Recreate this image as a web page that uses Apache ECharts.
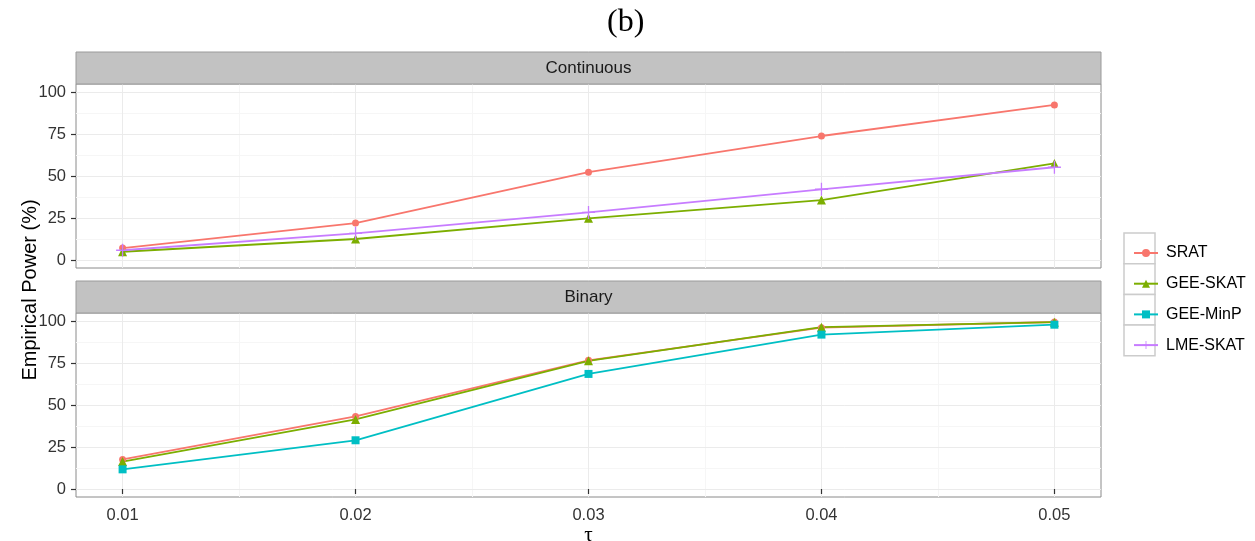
<!DOCTYPE html>
<html>
<head>
<meta charset="utf-8">
<script src="https://cdn.jsdelivr.net/npm/echarts@6/dist/echarts.min.js"></script>
<style>
  html, body { margin: 0; padding: 0; background: #fff; }
  #main { width: 1255px; height: 541px; }
</style>
</head>
<body>
<div id="main"></div>
<script>
// tau values on the x axis
const taus = [0.01, 0.02, 0.03, 0.04, 0.05];
const tauTicks = [0.01, 0.02, 0.03, 0.04, 0.05];
const tauMinor = [0.015, 0.025, 0.035, 0.045];
const powerTicks = [0, 25, 50, 75, 100];
const powerMinor = [12.5, 37.5, 62.5, 87.5];
const methods = ['SRAT', 'GEE-SKAT', 'GEE-MinP', 'LME-SKAT'];
const panels = ['Continuous', 'Binary'];

// Continuous panel
const contSRAT = [7.1, 22.0, 52.3, 73.8, 92.3];
const contGEESKAT = [4.9, 12.5, 24.8, 35.7, 57.5];
const contLMESKAT = [5.8, 15.9, 28.3, 42.1, 55.2];
// Binary panel
const binSRAT = [17.6, 43.2, 76.6, 96.0, 99.4];
const binGEESKAT = [16.3, 41.4, 76.3, 96.3, 99.3];
const binGEEMinP = [11.7, 29.0, 68.5, 91.9, 97.8];

const colors = { 'SRAT': '#F8766D', 'GEE-SKAT': '#7CAE00', 'GEE-MinP': '#00BFC4', 'LME-SKAT': '#C77CFF' };
const plusPath = 'path://M-0.1,-1H0.1V-0.1H1V0.1H0.1V1H-0.1V0.1H-1V-0.1H-0.1Z';
const symbols = { 'SRAT': ['circle', 7], 'GEE-SKAT': ['triangle', 9], 'GEE-MinP': ['rect', 8], 'LME-SKAT': [plusPath, 13] };

const X_MIN = 0.008, X_MAX = 0.052;
const Y_MIN = -4.76, Y_MAX = 104.76;
const PL = 76, PW = 1025, PH = 184;
const panelTops = [84, 313];
const stripH = 32;

let chart = echarts.init(document.getElementById('main'), null, { renderer: 'canvas' });

function xAxes(gi, bottom) {
  return [{
    type: 'value', gridIndex: gi, min: X_MIN, max: X_MAX,
    axisLine: { show: false },
    axisTick: { show: bottom, inside: false, customValues: tauTicks, length: 5, lineStyle: { color: '#333', width: 1.2 } },
    axisLabel: { show: bottom, customValues: tauTicks, margin: 10, fontSize: 16.5, color: '#333',
      fontFamily: 'Liberation Sans', formatter: v => v.toFixed(2) },
    splitLine: { show: true, lineStyle: { color: '#EBEBEB', width: 1 } },
    name: bottom ? 'τ' : '', nameLocation: 'middle', nameGap: 28,
    nameTextStyle: { fontSize: 21, fontFamily: 'Liberation Serif', color: '#000' },
    z: 1
  }, {
    type: 'value', gridIndex: gi, min: X_MIN, max: X_MAX,
    axisLine: { show: false },
    axisTick: { show: false, customValues: tauMinor },
    axisLabel: { show: false, customValues: tauMinor },
    splitLine: { show: true, lineStyle: { color: '#F6F6F6', width: 1 } },
    z: 0
  }];
}

function yAxes(gi) {
  return [{
    type: 'value', gridIndex: gi, min: Y_MIN, max: Y_MAX,
    axisLine: { show: false },
    axisTick: { show: true, inside: false, customValues: powerTicks, length: 5, lineStyle: { color: '#333', width: 1.2 } },
    axisLabel: { show: true, customValues: powerTicks, margin: 10, fontSize: 16.5, color: '#333',
      fontFamily: 'Liberation Sans' },
    splitLine: { show: true, lineStyle: { color: '#EBEBEB', width: 1 } },
    z: 1
  }, {
    type: 'value', gridIndex: gi, min: Y_MIN, max: Y_MAX,
    axisLine: { show: false },
    axisTick: { show: false, customValues: powerMinor },
    axisLabel: { show: false, customValues: powerMinor },
    splitLine: { show: true, lineStyle: { color: '#F6F6F6', width: 1 } },
    z: 0
  }];
}

function makeSeries(name, values, gi) {
  return {
    name: name, type: 'line',
    xAxisIndex: gi * 2, yAxisIndex: gi * 2,
    data: taus.map((t, i) => [t, values[i]]),
    symbol: symbols[name][0], symbolSize: symbols[name][1],
    showSymbol: true,
    lineStyle: { color: colors[name], width: 1.8 },
    itemStyle: { color: colors[name] },
    emphasis: { disabled: true },
    animation: false
  };
}

// ggplot draws in factor order, later methods on top
let series = [
  makeSeries('SRAT', contSRAT, 0),
  makeSeries('GEE-SKAT', contGEESKAT, 0),
  makeSeries('LME-SKAT', contLMESKAT, 0),
  makeSeries('SRAT', binSRAT, 1),
  makeSeries('GEE-SKAT', binGEESKAT, 1),
  makeSeries('GEE-MinP', binGEEMinP, 1)
];

let graphics = [];
panels.forEach((p, i) => {
  graphics.push({
    type: 'rect', z: 10,
    shape: { x: PL, y: panelTops[i] - stripH, width: PW, height: stripH },
    style: { fill: '#C2C2C2', stroke: '#9a9a9a', lineWidth: 1 }
  });
  graphics.push({
    type: 'text', z: 11,
    x: PL + PW / 2, y: panelTops[i] - stripH / 2,
    style: { text: p, fontSize: 17, fontFamily: 'Liberation Sans', fill: '#1a1a1a',
      textAlign: 'center', textVerticalAlign: 'middle' }
  });
});
// legend key boxes
methods.forEach((m, i) => {
  graphics.push({
    type: 'rect', z: 0,
    shape: { x: 1124, y: 233 + i * 30.7, width: 31, height: 30.7 },
    style: { fill: '#fff', stroke: '#CCCCCC', lineWidth: 1.5 }
  });
});
graphics.push({
  type: 'text', z: 11, x: 30, y: 290, rotation: Math.PI / 2,
  style: { text: 'Empirical Power (%)', fontSize: 20, fontFamily: 'Liberation Sans', fill: '#000',
    textAlign: 'center', textVerticalAlign: 'middle' }
});

let options = {
  backgroundColor: '#fff',
  animation: false,
  title: {
    text: '(b)', left: 602, top: 2,
    textStyle: { fontSize: 32, fontWeight: 'normal', fontFamily: 'Liberation Serif', color: '#000' }
  },
  legend: {
    data: methods, orient: 'vertical', left: 1128, top: 240,
    itemWidth: 24, itemHeight: 10, itemGap: 14.7,
    textStyle: { fontSize: 16, lineHeight: 16, fontFamily: 'Liberation Sans', color: '#000', padding: [0, 0, 0, 3] },
    selectedMode: false
  },
  grid: panelTops.map(t => ({
    left: PL, top: t, width: PW, height: PH,
    show: true, borderColor: '#8a8a8a', borderWidth: 1, backgroundColor: 'transparent',
    containLabel: false, outerBoundsMode: 'none'
  })),
  xAxis: [].concat(xAxes(0, false), xAxes(1, true)),
  yAxis: [].concat(yAxes(0), yAxes(1)),
  series: series,
  graphic: graphics
};
chart.setOption(options);
</script>
</body>
</html>
